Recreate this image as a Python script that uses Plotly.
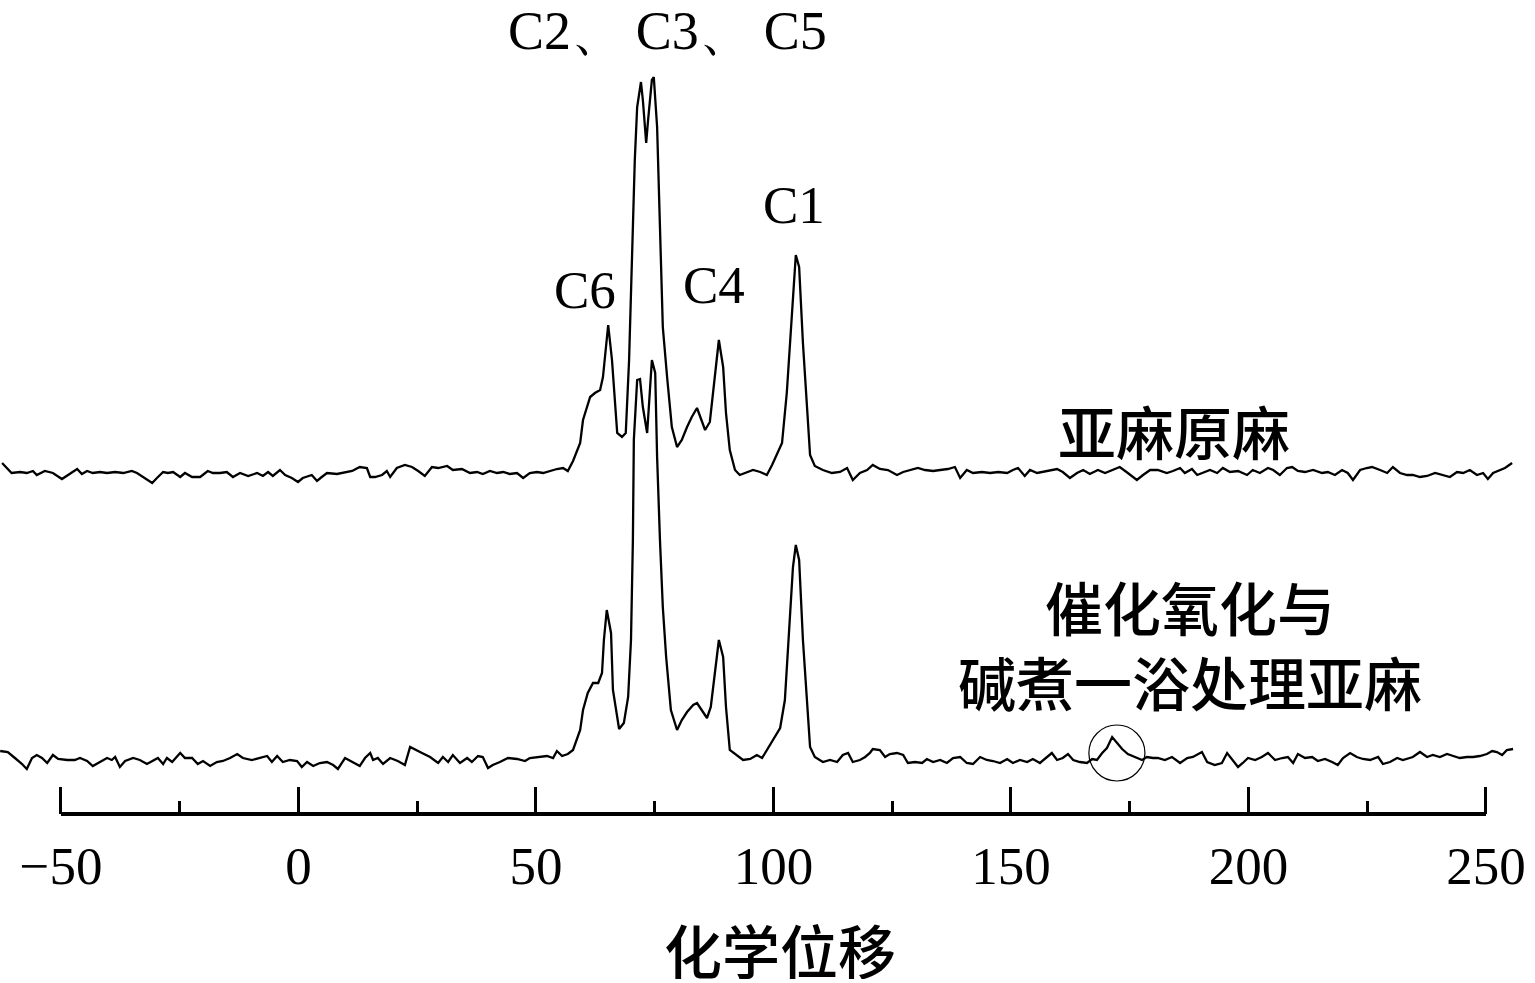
import plotly.graph_objects as go

# ---------------- data (chemical shift, ppm / relative intensity) ----------------
shift_raw = [-62.4, -61.4, -60.4, -58.6, -57.2, -55.9, -55.1, -53.4, -51.7, -49.8, -48.1, -46.6, -45.6, -44.5,
             -43.3, -41.8, -40.3, -38.6, -36.9, -35.1, -34.0, -32.7, -30.8, -29.8, -28.5, -27.5, -26.4, -24.9,
             -23.9, -22.4, -20.7, -19.1, -18.0, -16.5, -15.1, -13.8, -12.3, -10.6, -8.7, -7.5, -6.4, -5.4, -3.9,
             -2.8, -1.4, -0.1, 0.9, 2.8, 3.9, 4.9, 6.0, 8.1, 9.4, 11.3, 12.9, 14.4, 15.1, 16.1, 17.6, 18.6, 19.3,
             20.7, 22.4, 23.9, 25.2, 26.6, 28.1, 29.4, 31.3, 32.5, 34.4, 36.1, 37.6, 38.8, 40.3, 41.8, 43.1, 44.5,
             46.0, 47.3, 48.7, 50.2, 51.5, 52.9, 54.4, 55.7, 56.7, 57.8, 58.6, 59.3, 59.9, 61.4, 62.4, 63.5, 64.1,
             65.2, 66.0, 67.1, 68.1, 68.9, 69.6, 70.2, 70.8, 71.3, 72.1, 72.5, 73.2, 73.6, 74.4, 74.8, 75.5, 76.1,
             76.7, 77.6, 78.6, 79.7, 80.7, 81.8, 82.8, 83.9, 84.9, 85.6, 86.6, 87.3, 88.1, 88.5, 89.4, 90.0, 90.8,
             91.9, 92.9, 94.4, 95.7, 97.2, 98.6, 99.7, 100.9, 101.8, 102.8, 103.9, 104.7, 105.4, 106.2, 107.1,
             107.7, 108.7, 110.4, 112.3, 114.0, 115.5, 116.7, 118.2, 119.7, 120.9, 122.4, 124.1, 126.0, 127.3,
             129.2, 130.4, 131.9, 133.6, 135.1, 136.7, 138.2, 139.3, 140.7, 142.0, 143.9, 145.6, 147.3, 149.2,
             150.4, 151.5, 152.9, 154.0, 155.5, 156.7, 158.2, 159.7, 160.9, 162.4, 163.9, 165.2, 166.6, 168.3,
             169.8, 171.5, 172.9, 174.6, 176.5, 177.8, 179.3, 180.9, 182.8, 184.1, 185.6, 186.6, 188.1, 189.2,
             190.4, 191.9, 193.4, 194.6, 196.1, 197.8, 199.7, 200.9, 202.4, 204.1, 205.2, 206.6, 208.1, 209.2,
             210.4, 211.9, 213.6, 215.5, 216.7, 218.2, 219.7, 220.9, 222.0, 223.5, 224.9, 226.0, 227.7, 229.2,
             230.4, 231.9, 233.4, 234.6, 236.1, 237.6, 239.3, 240.9, 242.4, 243.9, 245.2, 246.6, 248.1, 249.4,
             250.4, 251.5, 252.9, 254.0, 255.5]
int_raw = [9, 4, -1, 0, -1, 1, -3, 1, -1, -7, -2, 3, -2, 1,
           -1, 0, -1, 0, -1, 1, -1, -5, -11, -6, 0, -1, 0, -5,
           -1, -5, -5, 1, -1, -1, 0, -5, -1, -4, -1, -4, 0, -4, 2,
           -3, -6, -10, -6, -3, -9, -5, -1, -2, -1, 1, 5, 4, -5, -5, -3, 1, -5,
           4, 7, 5, 1, -4, 5, 4, 6, 2, 3, -1, 0, -2, 1, -1, 0, -2,
           -1, -6, -1, 0, -1, 1, 3, 4, 1, 11, 20, 29, 52, 75, 79, 82, 95,
           147, 112, 39, 35, 39, 112, 212, 312, 365, 390, 372, 329, 352, 392, 395, 345, 245,
           145, 95, 45, 25, 32, 45, 55, 64, 52, 42, 50, 79, 112, 132, 105, 59, 22,
           2, -3, 0, 2, 0, -3, 7, 19, 29, 79, 162, 217, 205, 129, 62,
           17, 6, 2, -1, 0, 4, -8, -1, 2, 7, 3, 2, -3, 0,
           2, 4, 2, 1, 2, 3, 5, -6, 2, -1, 0, -1, 0, -1,
           2, 4, -4, 2, -1, 0, 2, 3, 0, -6, -1, 2, -2, 2,
           -1, 2, 5, -1, -8, -3, 2, 2, -1, 1, 4, -1, 3, -3,
           -1, 2, -1, 4, 0, 1, -3, 2, -1, 4, 2, -3, 4, 5,
           1, 0, 2, -1, 0, -3, 2, -1, -8, 2, 4, 5, 2, -1,
           5, -1, -3, -3, -5, -4, -1, -3, -5, 0, -1, 2, -3, -1,
           -7, -1, 2, 4, 9]

shift_treated = [-62.8, -61.2, -59.7, -58.2, -57.2, -56.1, -55.1, -54.0, -52.9, -51.7, -50.6, -48.7, -47.1,
                 -46.0, -44.5, -43.3, -41.8, -40.3, -39.3, -38.6, -37.6, -36.5, -34.8, -33.4, -31.9, -30.6,
                 -29.6, -28.5, -27.7, -26.6, -24.9, -23.9, -22.4, -21.2, -20.1, -18.6, -17.2, -15.9, -14.4,
                 -12.9, -11.7, -9.8, -8.1, -6.6, -5.6, -4.5, -3.3, -1.8, -0.3, 0.7, 1.8, 3.1, 4.5, 6.0, 7.3,
                 8.3, 9.8, 11.3, 12.9, 14.0, 15.1, 15.7, 16.7, 17.8, 19.3, 20.9, 22.4, 23.5, 24.9, 26.0, 27.7,
                 29.4, 30.4, 31.5, 32.5, 34.0, 35.5, 36.5, 37.8, 38.8, 39.9, 40.9, 42.4, 44.1, 46.0, 47.7,
                 48.7, 50.4, 52.3, 53.6, 54.4, 55.5, 56.7, 57.8, 58.6, 59.3, 59.9, 60.9, 62.0, 63.1, 63.9,
                 64.3, 64.9, 65.8, 66.2, 67.5, 68.5, 69.4, 70.0, 70.4, 70.6, 71.3, 71.9, 72.5, 73.4, 73.8,
                 74.4, 75.1, 75.5, 76.1, 76.7, 77.4, 78.4, 79.7, 80.7, 81.8, 83.1, 83.9, 84.9, 86.0, 86.8,
                 87.7, 88.5, 89.4, 90.0, 90.8, 92.3, 93.6, 95.1, 96.5, 97.6, 98.6, 99.9, 101.4, 102.4, 103.3,
                 104.1, 104.7, 105.4, 106.2, 107.1, 107.7, 108.7, 110.4, 111.9, 113.4, 114.6, 115.7, 116.7,
                 118.2, 119.3, 120.3, 120.9, 122.4, 123.5, 124.5, 126.0, 127.3, 128.3, 129.8, 131.3, 132.3,
                 133.6, 135.1, 136.5, 137.8, 139.3, 140.7, 142.0, 143.5, 144.9, 146.2, 147.7, 149.2, 150.4,
                 151.9, 153.4, 154.6, 156.1, 157.6, 158.6, 159.7, 160.9, 162.0, 163.1, 164.5, 166.0, 167.1,
                 168.1, 169.2, 170.2, 171.3, 172.3, 173.4, 174.6, 176.1, 177.6, 178.6, 179.9, 180.9, 182.4,
                 183.9, 185.6, 187.1, 188.3, 190.2, 191.3, 192.9, 194.4, 195.5, 196.5, 197.8, 198.8, 199.9,
                 201.4, 202.8, 204.1, 205.6, 207.1, 208.3, 209.4, 210.4, 211.9, 213.4, 214.6, 216.1, 217.6,
                 218.8, 219.9, 221.4, 222.8, 224.1, 225.6, 227.3, 228.3, 229.8, 231.3, 232.5, 234.6, 236.1,
                 237.6, 238.8, 240.3, 241.8, 243.1, 244.5, 246.0, 247.3, 248.7, 250.2, 251.3, 252.3, 253.4,
                 254.4, 255.7]
int_treated = [9, 8, 2, -4, -9, 2, 5, 2, -3, 5, 1, 0, 0,
               2, -1, -6, -2, 2, 0, 3, -7, -1, 2, 0, -4, -1,
               2, -4, 2, -2, 7, 2, 2, -4, -1, -6, -2, -1, 2,
               6, 2, 0, 2, 4, -2, 4, -2, 0, -1, -7, -2, -6, -3, -2, -5,
               -9, 2, -2, -6, 2, 7, 0, 2, -4, 2, -1, -5, 13, 10, 7, 3,
               -3, 3, -2, 5, -3, 2, -2, 4, 3, -8, -5, -2, 2, 1, -1,
               2, 3, 4, 2, 9, 4, 6, 10, 20, 30, 50, 67, 77, 77, 87,
               120, 150, 127, 70, 31, 37, 63, 120, 220, 320, 380, 381, 353, 327, 360,
               400, 387, 303, 220, 153, 103, 50, 30, 40, 48, 55, 57, 50, 42, 53,
               87, 120, 103, 53, 10, 5, 0, 1, 5, 2, 10, 20, 32, 60, 137,
               193, 215, 200, 120, 53, 13, 3, -2, 0, -2, 5, 7, -2,
               0, 3, 7, 11, 10, 3, 6, 7, 5, -3, -2, -3, 1,
               -2, 0, -3, 2, 3, -3, -4, 3, 0, -1, -3, 1, -3,
               0, -2, 1, -3, 3, 7, 0, 2, 6, 0, -2, -3, 1,
               0, 7, 12, 23, 17, 11, 6, 3, 0, 3, 2, 2, 0,
               3, -3, 2, 3, 8, -2, -5, -3, 7, 1, -7, -3, 2,
               0, 3, 7, 0, 2, 3, -3, 6, 2, 3, -1, 1, -2,
               -5, 2, 7, 3, 1, 0, 3, -4, -2, 2, 0, 3, 8,
               3, 5, 3, 6, 4, 2, 3, 3, 4, 6, 9, 8, 5,
               10, 11]

tick_vals = [-50, 0, 50, 100, 150, 200, 250]
tick_text = ["\u221250", "0", "50", "100", "150", "200", "250"]
minor_tick_vals = [-25, 25, 75, 125, 175, 225]

peak_labels = ["C2\u3001\u2009C3\u3001\u2009C5", "C1", "C6", "C4"]
sample_labels = ["亚麻原麻", "催化氧化与<br>碱煮一浴处理亚麻"]
axis_title = "化学位移"

# ---------------- layout constants (not data) ----------------
OFFSET_RAW = 342
OFFSET_TREATED = 54
X_RANGE = [-62.84, 260.32]
Y_RANGE = [0, 814]
SERIF = "Liberation Serif, Times New Roman, serif"
CJK = "Noto Sans CJK SC, sans-serif"
CJK_WEIGHT = 500

fig = go.Figure()
fig.add_trace(go.Scatter(x=shift_raw, y=[v + OFFSET_RAW for v in int_raw], mode="lines",
                         line=dict(color="black", width=2.3), showlegend=False, hoverinfo="skip"))
fig.add_trace(go.Scatter(x=shift_treated, y=[v + OFFSET_TREATED for v in int_treated], mode="lines",
                         line=dict(color="black", width=2.3), showlegend=False, hoverinfo="skip"))

# axis line limited to the tick span
fig.add_shape(type="line", xref="x", yref="paper", x0=tick_vals[0], x1=tick_vals[-1], y0=0, y1=0,
              line=dict(color="black", width=4))
# circle around small peak near 172 ppm
fig.add_shape(type="circle", xref="x", yref="y", x0=166.4, x1=178.2, y0=33, y1=89,
              line=dict(color="black", width=1.2))

# (text, x, y, family, size, weight)
ann = [
    (peak_labels[0], 77.6, 783, SERIF, 54, "normal"),
    (peak_labels[1], 104.3, 609, SERIF, 53, "normal"),
    (peak_labels[2], 60.3, 524, SERIF, 53, "normal"),
    (peak_labels[3], 87.5, 529, SERIF, 53, "normal"),
    (sample_labels[0], 184.3, 384, CJK, 58, CJK_WEIGHT),
    (sample_labels[1], 187.6, 171, CJK, 58, CJK_WEIGHT),
]
for text, x, y, fam, size, weight in ann:
    fig.add_annotation(text=text, x=x, y=y, xref="x", yref="y", showarrow=False,
                       xanchor="center", yanchor="middle",
                       font=dict(family=fam, size=size, color="black", weight=weight))

# axis title
fig.add_annotation(text=axis_title, x=101.4, y=-0.166, xref="x", yref="paper", showarrow=False,
                   xanchor="center", yanchor="middle", height=60,
                   font=dict(family=CJK, size=58, color="black", weight=CJK_WEIGHT))

fig.update_layout(
    width=1535, height=983,
    margin=dict(l=0, r=0, t=0, b=169, pad=0),
    paper_bgcolor="white", plot_bgcolor="white",
    showlegend=False,
    xaxis=dict(range=X_RANGE, showgrid=False, zeroline=False, showline=False,
               tickmode="array", tickvals=tick_vals, ticktext=tick_text,
               ticks="inside", ticklen=27, tickwidth=2.5, tickcolor="black",
               ticklabelstandoff=16,
               minor=dict(tickmode="array", tickvals=minor_tick_vals, ticks="inside",
                          ticklen=13, tickwidth=2.5, tickcolor="black", showgrid=False),
               tickfont=dict(family=SERIF, size=53, color="black")),
    yaxis=dict(range=Y_RANGE, visible=False, showgrid=False, zeroline=False),
)

fig.write_html("out.html", config={"displayModeBar": False},
               post_script="document.body.style.margin='0';")
